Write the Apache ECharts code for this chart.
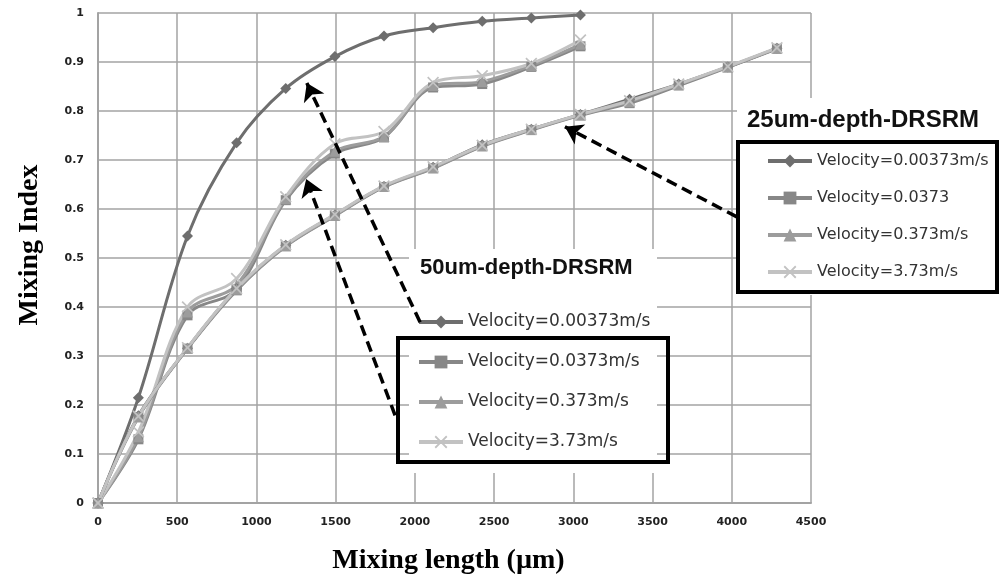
<!DOCTYPE html>
<html>
<head>
<meta charset="utf-8">
<title>Mixing Index vs Mixing length</title>
<script src="https://cdn.jsdelivr.net/npm/echarts@6/dist/echarts.min.js"></script>
<style>
  html, body { margin: 0; padding: 0; background: #fff; }
  #main { width: 1000px; height: 582px; }
</style>
</head>
<body>
<div id="main"></div>
<script>
// 数据：混合长度 (µm)
let x50 = [0, 255, 565, 875, 1185, 1495, 1805, 2115, 2425, 2735, 3045];
let x25 = [0, 255, 565, 875, 1185, 1495, 1805, 2115, 2425, 2735, 3045, 3355, 3665, 3975, 4285];

// 50um-depth-DRSRM
let y50_00373 = [0, 0.215, 0.545, 0.735, 0.846, 0.911, 0.953, 0.970, 0.983, 0.990, 0.996];
let y50_0373 = [0, 0.130, 0.383, 0.436, 0.618, 0.713, 0.746, 0.848, 0.855, 0.890, 0.932];
let y50_373 = [0, 0.135, 0.390, 0.445, 0.621, 0.718, 0.748, 0.852, 0.860, 0.893, 0.936];
let y50_373b = [0, 0.145, 0.400, 0.458, 0.625, 0.733, 0.758, 0.858, 0.872, 0.897, 0.945];

// 25um-depth-DRSRM
let y25_00373 = [0, 0.178, 0.316, 0.437, 0.526, 0.588, 0.646, 0.685, 0.731, 0.763, 0.793, 0.824, 0.855, 0.890, 0.928];
let y25_0373 = [0, 0.175, 0.315, 0.434, 0.524, 0.586, 0.645, 0.683, 0.728, 0.761, 0.791, 0.816, 0.852, 0.889, 0.927];
let y25_373 = [0, 0.176, 0.316, 0.436, 0.525, 0.587, 0.646, 0.684, 0.729, 0.762, 0.792, 0.819, 0.854, 0.890, 0.928];
let y25_373b = [0, 0.177, 0.317, 0.438, 0.527, 0.589, 0.647, 0.686, 0.730, 0.763, 0.793, 0.821, 0.855, 0.891, 0.929];

let xTicks = [0, 500, 1000, 1500, 2000, 2500, 3000, 3500, 4000, 4500];

// 图例文字
let legend50 = ['Velocity=0.00373m/s', 'Velocity=0.0373m/s', 'Velocity=0.373m/s', 'Velocity=3.73m/s'];
let legend25 = ['Velocity=0.00373m/s', 'Velocity=0.0373', 'Velocity=0.373m/s', 'Velocity=3.73m/s'];

// 箭头 (数据坐标) [起点, 终点]
let arrows = [
    [[2033, 0.369], [1318, 0.857]],
    [[1875, 0.179], [1314, 0.661]],
    [[4032, 0.584], [2947, 0.768]]
];

function pairs(xs, ys) {
    let out = [];
    for (let i = 0; i < ys.length; i++) {
        out.push([xs[i], ys[i]]);
    }
    return out;
}

let crossPath = 'path://M0,1L1,0L5,4L9,0L10,1L6,5L10,9L9,10L5,6L1,10L0,9L4,5Z';

let styles = [
    { color: '#6e6e6e', symbol: 'diamond', size: 11 },
    { color: '#878787', symbol: 'rect', size: 10 },
    { color: '#9c9c9c', symbol: 'triangle', size: 11 },
    { color: '#c2c2c2', symbol: crossPath, size: 12 }
];

let names50 = ['50-a', '50-b', '50-c', '50-d'];
let names25 = ['25-a', '25-b', '25-c', '25-d'];
let labelMap = {};
for (let i = 0; i < 4; i++) {
    labelMap[names50[i]] = legend50[i];
    labelMap[names25[i]] = legend25[i];
}

function makeSeries(name, xs, ys, st) {
    return {
        name: name,
        type: 'line',
        smooth: 0.35,
        data: pairs(xs, ys),
        symbol: st.symbol,
        symbolSize: st.size,
        showAllSymbol: true,
        color: st.color,
        lineStyle: { width: 3, color: st.color },
        itemStyle: { color: st.color },
        emphasis: { disabled: true },
        z: 2
    };
}

let series = [
    makeSeries(names50[0], x50, y50_00373, styles[0]),
    makeSeries(names50[1], x50, y50_0373, styles[1]),
    makeSeries(names50[2], x50, y50_373, styles[2]),
    makeSeries(names50[3], x50, y50_373b, styles[3]),
    makeSeries(names25[0], x25, y25_00373, styles[0]),
    makeSeries(names25[1], x25, y25_0373, styles[1]),
    makeSeries(names25[2], x25, y25_373, styles[2]),
    makeSeries(names25[3], x25, y25_373b, styles[3])
];

// 虚线箭头
series[0].markLine = {
    silent: true,
    symbol: ['none', 'arrow'],
    symbolSize: 17,
    label: { show: false },
    lineStyle: { color: '#000', width: 3.5, type: [11, 6] },
    emphasis: { disabled: true },
    data: arrows.map(function (a) {
        return [{ coord: a[0] }, { coord: a[1] }];
    })
};

let myChart = echarts.init(document.getElementById('main'), null, { renderer: 'canvas' });

let legendCommon = {
    orient: 'vertical',
    padding: 0,
    itemWidth: 44,
    itemHeight: 16,
    selectedMode: false,
    lineStyle: { width: 4 },
    formatter: function (name) { return labelMap[name]; }
};

let option = {
    backgroundColor: '#fff',
    animation: false,
    grid: { left: 98, right: 189, top: 13, bottom: 79 },
    xAxis: {
        type: 'value',
        min: 0,
        max: 4500,
        interval: 500,
        name: 'Mixing length (µm)',
        nameLocation: 'middle',
        nameGap: 44,
        nameTextStyle: {
            fontFamily: 'Liberation Serif',
            fontWeight: 'bold',
            fontSize: 28,
            color: '#000',
            padding: [0, 12, 0, 0]
        },
        axisLine: { lineStyle: { color: '#a3a3a3', width: 2 } },
        axisTick: { show: false },
        axisLabel: {
            margin: 14,
            fontFamily: 'DejaVu Sans',
            fontWeight: 'bold',
            fontSize: 11,
            color: '#222',
            formatter: function (v) {
                return xTicks.indexOf(v) >= 0 ? String(v) : '';
            }
        },
        splitLine: { show: true, lineStyle: { color: '#a3a3a3', width: 1.5 } }
    },
    yAxis: {
        type: 'value',
        min: 0,
        max: 1,
        interval: 0.1,
        name: 'Mixing Index',
        nameLocation: 'middle',
        nameGap: 54,
        nameTextStyle: {
            fontFamily: 'Liberation Serif',
            fontWeight: 'bold',
            fontSize: 28,
            color: '#000',
            padding: [0, 0, 0, 26]
        },
        axisLine: { show: true, lineStyle: { color: '#a3a3a3', width: 2 } },
        axisTick: { show: false },
        axisLabel: {
            margin: 14,
            fontFamily: 'DejaVu Sans',
            fontWeight: 'bold',
            fontSize: 11,
            color: '#222'
        },
        splitLine: { show: true, lineStyle: { color: '#a3a3a3', width: 1.5 } }
    },
    title: [
        {
            text: '50um-depth-DRSRM',
            left: 415,
            top: 252,
            textStyle: { fontFamily: 'Liberation Sans', fontWeight: 'bold', fontSize: 22, color: '#111' }
        },
        {
            text: '25um-depth-DRSRM',
            left: 742,
            top: 103,
            textStyle: { fontFamily: 'Liberation Sans', fontWeight: 'bold', fontSize: 24, color: '#111' }
        }
    ],
    legend: [
        Object.assign({}, legendCommon, {
            data: names50,
            left: 417,
            top: 312,
            itemGap: 20,
            textStyle: { fontFamily: 'DejaVu Sans', fontSize: 17, color: '#333', lineHeight: 20 }
        }),
        Object.assign({}, legendCommon, {
            data: names25,
            left: 766,
            top: 151,
            itemGap: 17,
            textStyle: { fontFamily: 'DejaVu Sans', fontSize: 16, color: '#333', lineHeight: 20 }
        })
    ],
    graphic: [
        // 图例白色背景
        { type: 'rect', z: 1, shape: { x: 409, y: 249, width: 248, height: 224 }, style: { fill: '#fff' } },
        { type: 'rect', z: 1, shape: { x: 737, y: 98, width: 263, height: 197 }, style: { fill: '#fff' } },
        // 黑色边框
        { type: 'rect', z: 3, shape: { x: 398, y: 338, width: 270, height: 124 }, style: { fill: 'none', stroke: '#000', lineWidth: 4 } },
        { type: 'rect', z: 3, shape: { x: 738, y: 142, width: 259, height: 150 }, style: { fill: 'none', stroke: '#000', lineWidth: 4 } }
    ],
    series: series
};

myChart.setOption(option);
</script>
</body>
</html>
